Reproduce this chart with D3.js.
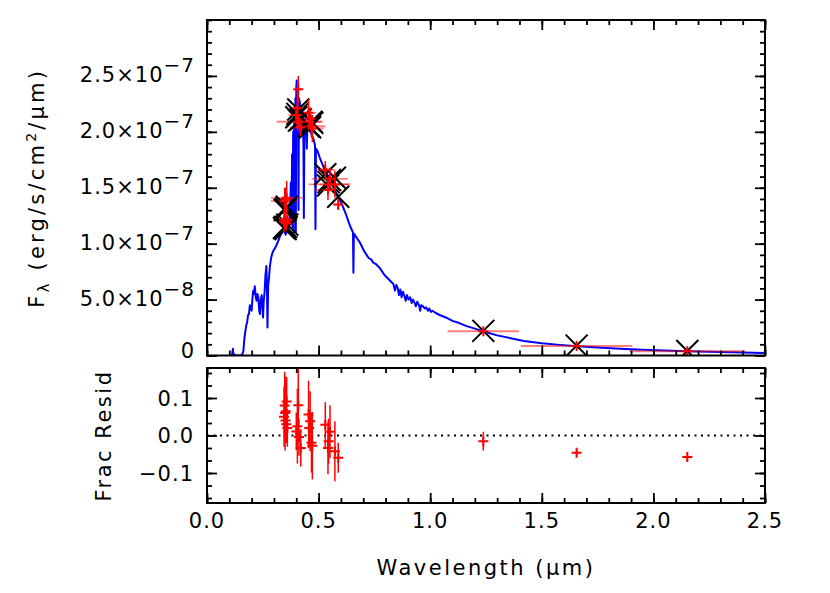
<!DOCTYPE html>
<html><head><meta charset="utf-8">
<script src="https://cdn.jsdelivr.net/npm/d3@7"></script>
<style>
body{margin:0;background:#fff}
svg{display:block}
text{font-family:"DejaVu Sans",sans-serif;fill:#000}
</style>
</head><body>
<svg id="c" width="830" height="593"></svg>
<script>
// ---------------- DATA ----------------
// Model spectrum: wavelength (micron) and flux (units of 1e-7 erg/s/cm2/micron)
const specWl = [0.112,0.116,0.118,0.122,0.130,0.140,0.150,0.158,0.163,0.167,0.172,0.176,0.180,0.184,0.188,0.192,0.196,0.200,
  0.204,0.207,0.211,0.214,0.218,0.222,0.226,0.230,0.234,0.237,0.241,0.245,0.248,0.251,0.254,0.258,0.262,0.266,0.269,0.271,
  0.274,0.278,0.282,0.287,0.292,0.298,0.305,0.312,0.320,0.328,0.336,0.344,0.352,0.358,0.364,0.368,0.372,0.376,0.379,0.381,
  0.383,0.386,0.388,0.391,0.393,0.396,0.398,0.400,0.402,0.404,0.406,0.408,0.410,0.412,0.416,0.420,0.424,0.428,0.432,0.434,
  0.436,0.440,0.444,0.447,0.450,0.455,0.460,0.466,0.472,0.478,0.484,0.486,0.488,0.495,0.505,0.515,0.525,0.535,0.545,0.555,
  0.565,0.575,0.585,0.595,0.605,0.615,0.625,0.635,0.645,0.654,0.656,0.658,0.665,0.675,0.685,0.695,0.705,0.715,0.725,0.735,
  0.745,0.755,0.765,0.775,0.785,0.795,0.805,0.815,0.825,0.835,0.842,0.848,0.855,0.860,0.866,0.872,0.878,0.885,0.890,0.896,
  0.903,0.910,0.917,0.923,0.930,0.936,0.942,0.950,0.955,0.960,0.968,0.975,0.982,0.990,0.996,1.003,1.010,1.025,1.045,1.070,
  1.100,1.130,1.160,1.200,1.240,1.300,1.360,1.420,1.500,1.580,1.660,1.750,1.850,1.950,2.050,2.150,2.250,2.350,2.450,2.500];
const specFlux = [0.00,0.06,0.00,0.01,0.00,0.00,0.00,0.01,0.04,0.14,0.22,0.27,0.30,0.36,0.37,0.45,0.43,0.40,
  0.52,0.58,0.55,0.62,0.53,0.49,0.55,0.52,0.40,0.37,0.50,0.54,0.44,0.34,0.48,0.57,0.72,0.80,0.55,0.25,
  0.62,0.70,0.80,0.87,0.91,0.94,0.96,0.99,1.03,1.07,1.10,1.13,1.08,1.12,1.10,1.18,1.30,1.55,1.20,1.80,
  1.15,2.00,1.10,2.15,1.20,2.30,1.10,2.40,2.46,2.25,2.38,2.20,1.30,2.30,2.26,2.22,2.18,2.10,1.90,1.23,
  1.95,2.12,2.05,1.85,2.08,2.06,2.02,1.99,1.96,1.93,1.88,1.13,1.85,1.83,1.77,1.72,1.67,1.63,1.60,1.57,
  1.52,1.47,1.43,1.39,1.35,1.30,1.25,1.19,1.14,1.10,0.74,1.09,1.07,1.04,1.01,0.97,0.93,0.90,0.87,0.86,
  0.83,0.82,0.80,0.78,0.75,0.72,0.70,0.68,0.66,0.64,0.58,0.63,0.60,0.54,0.59,0.52,0.57,0.53,0.49,0.54,
  0.50,0.52,0.47,0.50,0.47,0.44,0.48,0.45,0.40,0.45,0.44,0.42,0.43,0.40,0.42,0.39,0.40,0.38,0.36,0.34,
  0.31,0.29,0.265,0.24,0.215,0.18,0.155,0.13,0.11,0.095,0.083,0.071,0.060,0.052,0.045,0.039,0.034,0.029,0.025,0.023];

// Broadband photometry (flux in 1e-7 units)
const bandWl        = [0.345,0.350,0.352,0.355,0.357,0.348,0.360,0.353, 0.409,0.405,0.400,0.412,0.420, 0.455,0.462,0.458,0.468,0.472, 0.530,0.551,0.545,0.542,0.573,0.588, 1.238,1.656,2.152];
const bandFlux      = [1.20,1.22,1.19,1.18,1.41,1.38,1.21,1.40, 2.38,2.21,2.15,2.09,2.04, 2.17,2.12,2.09,2.05,2.03, 1.66,1.58,1.53,1.48,1.53,1.35, 0.217,0.085,0.038];
const bandErr       = [0.10,0.08,0.07,0.06,0.15,0.12,0.05,0.10, 0.12,0.20,0.08,0.07,0.08, 0.12,0.10,0.06,0.10,0.12, 0.08,0.10,0.07,0.09,0.12,0.05, 0.006,0.003,0.002];
const bandHalfWidth = [0.030,0.045,0.040,0.035,0.070,0.062,0.030,0.050, 0.010,0.037,0.035,0.100,0.050, 0.035,0.045,0.060,0.063,0.050, 0.045,0.080,0.090,0.060,0.070,0.020, 0.160,0.250,0.260];
const modelFlux     = [1.14,1.15,1.13,1.15,1.33,1.30,1.17,1.31, 2.20,2.16,2.13,2.10,2.11, 2.05,2.04,2.05,2.09,2.08, 1.62,1.57,1.55,1.52,1.59,1.42, 0.220,0.088,0.040];
const residVal      = [0.050,0.060,0.040,0.030,0.091,0.080,0.020,0.065, 0.081,0.025,0.011,-0.004,-0.033, 0.056,0.038,0.020,-0.019,-0.027, 0.029,0.010,-0.015,-0.033,-0.042,-0.059, -0.015,-0.046,-0.057];
const residErr      = [0.08,0.10,0.06,0.05,0.065,0.09,0.05,0.08, 0.10,0.10,0.05,0.05,0.05, 0.09,0.08,0.05,0.08,0.09, 0.06,0.07,0.06,0.07,0.08,0.04, 0.025,0.008,0.008];

// Axis ticks / labels
const xTicks = [0,0.5,1.0,1.5,2.0,2.5];
const xTickLabels = ["0.0","0.5","1.0","1.5","2.0","2.5"];
const yTicks = [0,0.5,1.0,1.5,2.0,2.5];
const yTickMant = ["0","5.0","1.0","1.5","2.0","2.5"];
const yTickExp  = ["","\u22128","\u22127","\u22127","\u22127","\u22127"];
const rTicks = [-0.1,0.0,0.1];
const rTickLabels = ["\u22120.1","0.0","0.1"];

// ---------------- LAYOUT ----------------
const svg = d3.select("#c");
const xL=207, xR=765, topT=20, topB=355.5, resT=368, resB=503;
const x = d3.scaleLinear().domain([0,2.5]).range([xL,xR]);
const y = d3.scaleLinear().domain([0,3.0]).range([topB,topT]);
const yr = d3.scaleLinear().domain([-0.18,0.18]).range([resB,resT]);

svg.append("clipPath").attr("id","ct").append("rect")
  .attr("x",xL).attr("y",topT).attr("width",xR-xL).attr("height",topB-topT);
svg.append("clipPath").attr("id","cr").append("rect")
  .attr("x",xL).attr("y",resT).attr("width",xR-xL).attr("height",resB-resT);

// ---------- top panel ----------
const gT = svg.append("g").attr("clip-path","url(#ct)");
const line = d3.line().x((d,i)=>x(specWl[i])).y((d,i)=>y(specFlux[i]));
gT.append("path").datum(specWl).attr("d",line)
  .attr("fill","none").attr("stroke","#0000ff").attr("stroke-width",2).attr("stroke-linejoin","round");

const idx = d3.range(bandWl.length);
// bandwidth bars
gT.selectAll(".bw").data(idx).join("line")
  .attr("x1",i=>x(bandWl[i]-bandHalfWidth[i])).attr("x2",i=>x(bandWl[i]+bandHalfWidth[i]))
  .attr("y1",i=>y(bandFlux[i])).attr("y2",i=>y(bandFlux[i]))
  .attr("stroke","#ff0000").attr("stroke-opacity",0.5).attr("stroke-width",1.8);
// model X
const xs = 11;
gT.selectAll(".mx").data(idx).join("path")
  .attr("d",i=>{const cx=x(bandWl[i]), cy=y(modelFlux[i]);
    return `M${cx-xs},${cy-xs}L${cx+xs},${cy+xs}M${cx-xs},${cy+xs}L${cx+xs},${cy-xs}`;})
  .attr("stroke","#000").attr("stroke-width",2).attr("fill","none");
// error bars
gT.selectAll(".eb").data(idx).join("line")
  .attr("x1",i=>x(bandWl[i])).attr("x2",i=>x(bandWl[i]))
  .attr("y1",i=>y(bandFlux[i]-bandErr[i])).attr("y2",i=>y(bandFlux[i]+bandErr[i]))
  .attr("stroke","#ff0000").attr("stroke-width",1.5);
// plus symbol
const ps = 5;
gT.selectAll(".pl").data(idx).join("path")
  .attr("d",i=>{const cx=x(bandWl[i]), cy=y(bandFlux[i]);
    return `M${cx-ps},${cy}L${cx+ps},${cy}M${cx},${cy-ps}L${cx},${cy+ps}`;})
  .attr("stroke","#ff0000").attr("stroke-width",2).attr("fill","none");

// ---------- residual panel ----------
const gR = svg.append("g").attr("clip-path","url(#cr)");
gR.append("line").attr("x1",xL).attr("x2",xR).attr("y1",yr(0)).attr("y2",yr(0))
  .attr("stroke","#000").attr("stroke-width",2).attr("stroke-dasharray","2,4.5");
gR.selectAll(".reb").data(idx).join("line")
  .attr("x1",i=>x(bandWl[i])).attr("x2",i=>x(bandWl[i]))
  .attr("y1",i=>yr(residVal[i]-residErr[i])).attr("y2",i=>yr(residVal[i]+residErr[i]))
  .attr("stroke","#ff0000").attr("stroke-width",1.5);
gR.selectAll(".rpl").data(idx).join("path")
  .attr("d",i=>{const cx=x(bandWl[i]), cy=yr(residVal[i]);
    return `M${cx-ps},${cy}L${cx+ps},${cy}M${cx},${cy-ps}L${cx},${cy+ps}`;})
  .attr("stroke","#ff0000").attr("stroke-width",2).attr("fill","none");

// ---------- axes / frames ----------
function frame(t,b){
  svg.append("rect").attr("x",xL).attr("y",t).attr("width",xR-xL).attr("height",b-t)
    .attr("fill","none").attr("stroke","#000").attr("stroke-width",2);
}
function ticks(axisFn, scale, vals, len, tx, ty){
  const g = svg.append("g").attr("transform",`translate(${tx},${ty})`)
    .call(axisFn(scale).tickValues(vals).tickSize(-len).tickFormat(""));
  g.select(".domain").remove();
  g.selectAll("line").attr("stroke","#000").attr("stroke-width",1.8);
}
const xMinor = d3.range(0,26).map(k=>k/10);
const yMinor = d3.range(0,31).map(k=>k/10);
const rMinor = d3.range(-5,6).map(k=>k/30);
// top panel
ticks(d3.axisBottom, x, xMinor, 5, 0, topB);
ticks(d3.axisBottom, x, xTicks, 10, 0, topB);
ticks(d3.axisTop, x, xMinor, 5, 0, topT);
ticks(d3.axisTop, x, xTicks, 10, 0, topT);
ticks(d3.axisLeft, y, yMinor, 5, xL, 0);
ticks(d3.axisLeft, y, yTicks, 10, xL, 0);
ticks(d3.axisRight, y, yMinor, 5, xR, 0);
ticks(d3.axisRight, y, yTicks, 10, xR, 0);
// residual panel
ticks(d3.axisBottom, x, xMinor, 5, 0, resB);
ticks(d3.axisBottom, x, xTicks, 10, 0, resB);
ticks(d3.axisTop, x, xMinor, 5, 0, resT);
ticks(d3.axisTop, x, xTicks, 10, 0, resT);
ticks(d3.axisLeft, yr, rMinor, 5, xL, 0);
ticks(d3.axisLeft, yr, rTicks, 10, xL, 0);
ticks(d3.axisRight, yr, rMinor, 5, xR, 0);
ticks(d3.axisRight, yr, rTicks, 10, xR, 0);
frame(topT, topB);
frame(resT, resB);

// ---------- labels ----------
const fs = 21;
svg.selectAll(".xl").data(xTicks).join("text")
  .attr("x",d=>x(d)).attr("y",528).attr("text-anchor","middle")
  .attr("font-size",fs).attr("letter-spacing",1)
  .text((d,i)=>xTickLabels[i]);
svg.selectAll(".rl").data(rTicks).join("text")
  .attr("x",194).attr("y",d=>yr(d)+7.5).attr("text-anchor","end")
  .attr("font-size",fs).attr("letter-spacing",1)
  .text((d,i)=>rTickLabels[i]);
yTicks.forEach((d,i)=>{
  const t = svg.append("text").attr("x",195).attr("y",y(d)+(i===0?2.5:6))
    .attr("text-anchor","end").attr("font-size",fs).attr("letter-spacing",1);
  t.append("tspan").text(yTickMant[i] + (yTickExp[i] ? "\u00d710" : ""));
  if (yTickExp[i]) {
    t.append("tspan").attr("dy",-10).attr("font-size",20).text(yTickExp[i]);
  }
});
svg.append("text").attr("x",(xL+xR)/2).attr("y",575).attr("text-anchor","middle")
  .attr("font-size",fs).attr("letter-spacing",2.5).text("Wavelength (\u03bcm)");
const yt = svg.append("text").attr("transform",`translate(44,${(topT+topB)/2}) rotate(-90)`)
  .attr("text-anchor","middle").attr("font-size",fs).attr("letter-spacing",3.2);
yt.append("tspan").text("F");
yt.append("tspan").attr("font-size",15).attr("dy",5).text("\u03bb");
yt.append("tspan").attr("dy",-5).text(" (erg/s/cm");
yt.append("tspan").attr("font-size",14).attr("dy",-8).text("2");
yt.append("tspan").attr("dy",8).text("/\u03bcm)");
svg.append("text").attr("transform",`translate(111,${(resT+resB)/2}) rotate(-90)`)
  .attr("text-anchor","middle").attr("font-size",fs).attr("letter-spacing",2.5).text("Frac Resid");
</script>
</body></html>
